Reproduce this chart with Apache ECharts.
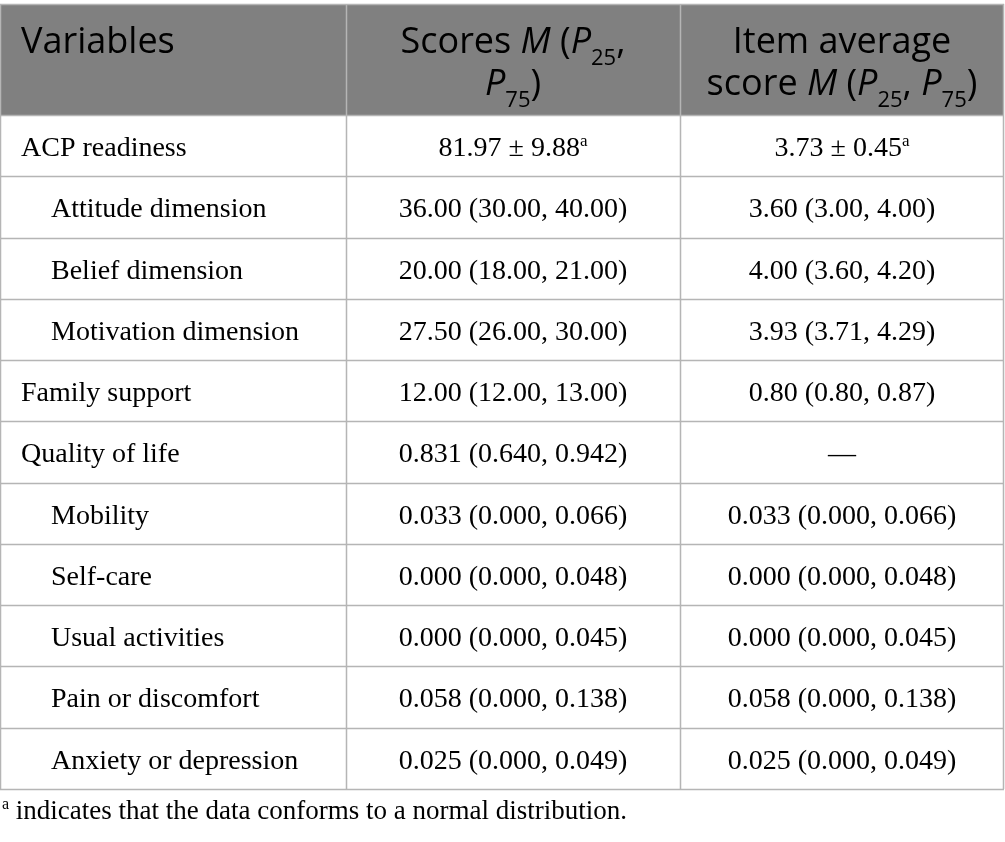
<!DOCTYPE html>
<html lang="en">
<head>
<meta charset="UTF-8">
<title>ACP readiness, family support and quality of life</title>
<script src="https://cdn.jsdelivr.net/npm/echarts@6/dist/echarts.min.js"></script>
<style>html,body{margin:0;padding:0;background:#fff;}</style>
</head>
<body>
<div id="main" style="width:1005px;height:842px;"></div>
<script>
// table content
var variables = ['ACP readiness', 'Attitude dimension', 'Belief dimension', 'Motivation dimension',
    'Family support', 'Quality of life', 'Mobility', 'Self-care', 'Usual activities',
    'Pain or discomfort', 'Anxiety or depression'];
var indents = [0, 1, 1, 1, 0, 0, 1, 1, 1, 1, 1];
var scores = ['81.97 \u00b1 9.88', '36.00 (30.00, 40.00)', '20.00 (18.00, 21.00)', '27.50 (26.00, 30.00)',
    '12.00 (12.00, 13.00)', '0.831 (0.640, 0.942)', '0.033 (0.000, 0.066)', '0.000 (0.000, 0.048)',
    '0.000 (0.000, 0.045)', '0.058 (0.000, 0.138)', '0.025 (0.000, 0.049)'];
var itemScores = ['3.73 \u00b1 0.45', '3.60 (3.00, 4.00)', '4.00 (3.60, 4.20)', '3.93 (3.71, 4.29)',
    '0.80 (0.80, 0.87)', '\u2014', '0.033 (0.000, 0.066)', '0.000 (0.000, 0.048)',
    '0.000 (0.000, 0.045)', '0.058 (0.000, 0.138)', '0.025 (0.000, 0.049)'];
var normalFlags = [1, 0, 0, 0, 0, 0, 0, 0, 0, 0, 0];
var footnote = 'indicates that the data conforms to a normal distribution.';

var mychart = echarts.init(document.getElementById('main'));

var colX = [0, 346, 680, 1004];
var tableTop = 4, headBottom = 115, rowH = 61.27;
var lineColor = '#b5b5b5';
var serif = '"Liberation Serif", "DejaVu Serif", serif';
var sans = '"Open Sans", "Noto Sans", sans-serif';

var headRich = {
    n: {fontFamily: sans, fontSize: 36, color: '#fff', lineHeight: 42},
    i: {fontFamily: sans, fontSize: 36, color: '#fff', fontStyle: 'italic', lineHeight: 42},
    s: {fontFamily: sans, fontSize: 22, color: '#fff', lineHeight: 16, verticalAlign: 'bottom', padding: [0, 0, -6, 0]}
};
var bodyRich = {
    n: {fontFamily: serif, fontSize: 28, color: '#231f20', lineHeight: 32},
    a: {fontFamily: serif, fontSize: 17, color: '#231f20', lineHeight: 15, verticalAlign: 'top'}
};
var noteRich = {
    n: {fontFamily: serif, fontSize: 27, color: '#231f20', lineHeight: 31},
    a: {fontFamily: serif, fontSize: 16, color: '#231f20', lineHeight: 15, verticalAlign: 'top'}
};

var g = [];
// header block
g.push({type: 'rect', shape: {x: colX[0], y: tableTop, width: colX[3] - colX[0], height: headBottom - tableTop},
    style: {fill: '#808080'}});
g.push({type: 'text', x: 21, y: 43, style: {text: '{n|Variables}', rich: headRich, align: 'left', verticalAlign: 'middle'}});
g.push({type: 'text', x: (colX[1] + colX[2]) / 2, y: 64, style: {
    text: '{n|Scores }{i|M}{n| (}{i|P}{s|25}{n|,}\n{i|P}{s|75}{n|)}', rich: headRich, align: 'center', verticalAlign: 'middle'}});
g.push({type: 'text', x: (colX[2] + colX[3]) / 2, y: 64, style: {
    text: '{n|Item average}\n{n|score }{i|M}{n| (}{i|P}{s|25}{n|, }{i|P}{s|75}{n|)}', rich: headRich, align: 'center', verticalAlign: 'middle'}});

// body rows
variables.forEach(function (v, r) {
    var cy = headBottom + rowH * (r + 0.5) + 3;
    var sup = normalFlags[r] ? '{a|a}' : '';
    g.push({type: 'text', x: indents[r] ? 51 : 21, y: cy, style: {
        text: '{n|' + v + '}', rich: bodyRich, align: 'left', verticalAlign: 'middle'}});
    g.push({type: 'text', x: (colX[1] + colX[2]) / 2, y: cy, style: {
        text: '{n|' + scores[r] + '}' + sup, rich: bodyRich, align: 'center', verticalAlign: 'middle'}});
    g.push({type: 'text', x: (colX[2] + colX[3]) / 2, y: cy, style: {
        text: '{n|' + itemScores[r] + '}' + sup, rich: bodyRich, align: 'center', verticalAlign: 'middle'}});
});

// grid lines
var tableBottom = headBottom + rowH * variables.length;
for (var r = 0; r <= variables.length; r++) {
    var y = Math.round(headBottom + rowH * r) + 0.5;
    g.push({type: 'line', shape: {x1: colX[0], y1: y, x2: colX[3], y2: y}, style: {stroke: lineColor, lineWidth: 1.5}});
}
g.push({type: 'line', shape: {x1: colX[0], y1: tableTop + 0.5, x2: colX[3], y2: tableTop + 0.5}, style: {stroke: lineColor, lineWidth: 1.5}});
colX.forEach(function (x) {
    var xx = Math.min(x, 1003) + 0.5;
    g.push({type: 'line', shape: {x1: xx, y1: tableTop, x2: xx, y2: tableBottom}, style: {stroke: lineColor, lineWidth: 1.5}});
});

// footnote
g.push({type: 'text', x: 2, y: 812, style: {
    text: '{a|a}{n| ' + footnote + '}', rich: noteRich, align: 'left', verticalAlign: 'middle'}});

mychart.setOption({
    animation: false,
    graphic: {elements: g}
});
</script>
</body>
</html>
